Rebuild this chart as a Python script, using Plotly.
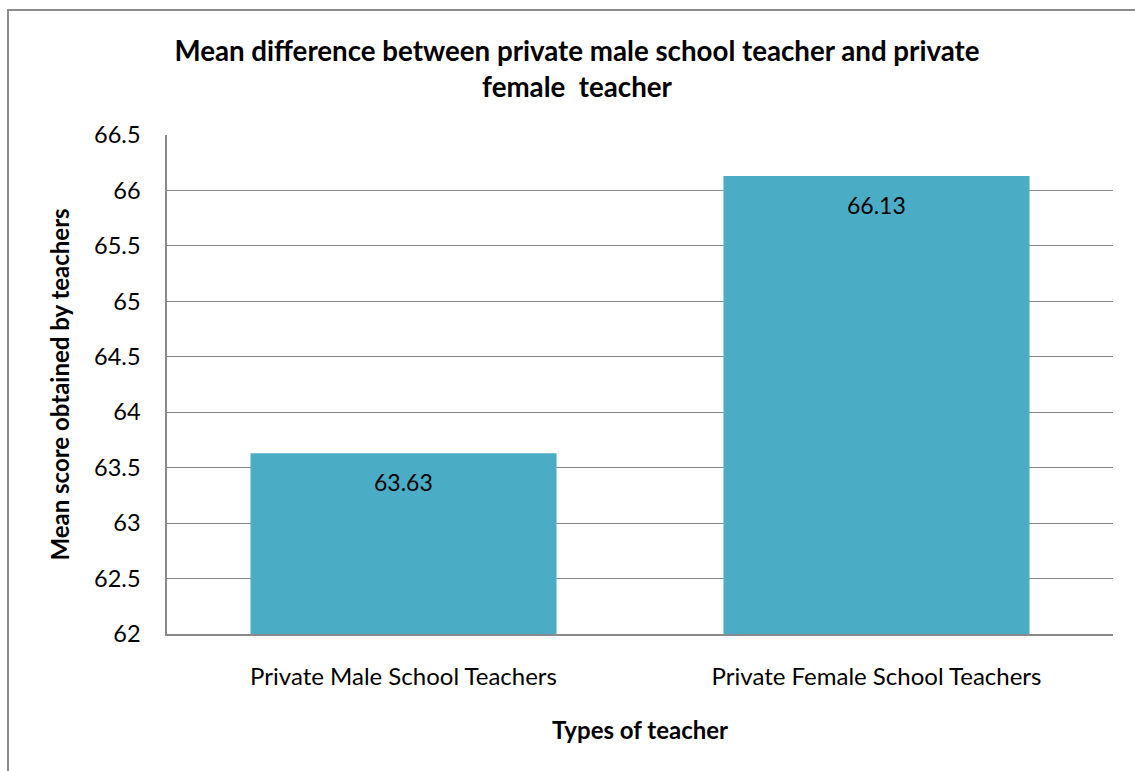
import plotly.graph_objects as go

categories = ["Private Male School Teachers", "Private Female School Teachers"]
values = [63.63, 66.13]
labels = ["63.63", "66.13"]
y_ticks = [62, 62.5, 63, 63.5, 64, 64.5, 65, 65.5, 66, 66.5]
y_tick_text = ["62", "62.5", "63", "63.5", "64", "64.5", "65", "65.5", "66", "66.5"]

FONT = "Lato, Carlito, Calibri, sans-serif"
BAR = "#4BACC6"
GRID = "#898989"

fig = go.Figure()
fig.add_trace(go.Bar(
    x=categories, y=values, marker=dict(color=BAR, line=dict(width=0)),
    width=0.647, showlegend=False, hoverinfo="skip",
))
for c, v, t in zip(categories, values, labels):
    fig.add_annotation(x=c, y=v, text=t, showarrow=False, yanchor="middle",
                       yshift=-29, font=dict(family=FONT, size=23, color="#000000"))

L, R, T, B = 167, 1135 - 1113, 135, 771 - 634
W, H = 1135, 771
pw, ph = W - L - R, H - T - B

fig.update_layout(
    width=W, height=H,
    margin=dict(l=L, r=R, t=T, b=B, autoexpand=False),
    paper_bgcolor="white", plot_bgcolor="white",
    font=dict(family=FONT, size=23, color="#000000"),
    title=dict(
        text="<b>Mean difference between private male school teacher and private<br>female  teacher</b>",
        x=(577) / W, xanchor="center", y=1 - 61 / H, yanchor="middle",
        font=dict(family=FONT, size=27.7, color="#000000"),
    ),
    bargap=0.353,
    xaxis=dict(
        showgrid=False, showline=True, linecolor=GRID, linewidth=1.5,
        ticks="", ticklabelstandoff=20, tickfont=dict(size=24),
        title=dict(text="<b>Types of teacher</b>", font=dict(size=24), standoff=34),
    ),
    yaxis=dict(
        range=[62, 66.5], tickvals=y_ticks, ticktext=y_tick_text,
        showgrid=True, gridcolor=GRID, gridwidth=1.3,
        showline=True, linecolor=GRID, linewidth=1.5,
        ticks="", ticklabelstandoff=20, tickfont=dict(size=23.5),
        zeroline=False,
        title=dict(text="<b>Mean score obtained by teachers</b>", font=dict(size=24), standoff=18),
    ),
)

# outer chart border
fig.add_shape(type="rect", xref="paper", yref="paper",
              x0=(8 - L) / pw, x1=(1145 - L) / pw,
              y0=(634 - 785) / ph, y1=(634 - 10) / ph,
              line=dict(color="#8c8c8c", width=2), fillcolor="rgba(0,0,0,0)", layer="below")

fig.write_html("out.html")
